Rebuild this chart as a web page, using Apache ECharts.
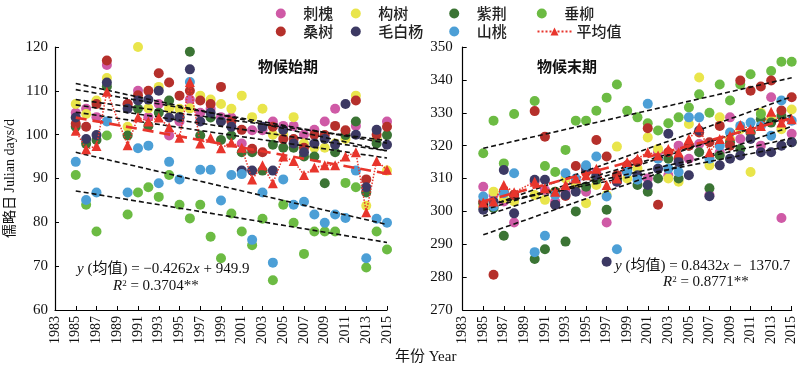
<!DOCTYPE html>
<html><head><meta charset="utf-8">
<script src="https://cdn.jsdelivr.net/npm/echarts@6/dist/echarts.min.js"></script>
<style>html,body{margin:0;padding:0;background:#fff}#c{width:800px;height:367px}</style>
</head><body><div id="c"></div>
<script>
// Years with observations (1989 missing)
const years = [1985,1986,1987,1988,1990,1991,1992,1993,1994,1995,1996,1997,1998,1999,2000,2001,2002,2003,2004,2005,2006,2007,2008,2009,2010,2011,2012,2013,2014,2015];
const xTicks = {min:1983, max:2015, interval:2};

// 物候始期 (start)
const startCihuai    = [105,105.9,104,115.9,107,110,104,107,99.8,103,108,105,105.9,104,103.9,98,101,101,103,102,102,100,101.1,103,105.9,100,102,87,99,103];
const startGoushu    = [107,104.7,107.8,112.9,101.8,120,106,110.9,106,105.9,106,108.9,108,107,105.9,108.9,104,105.9,100,100,104,98,97,97,98,99,108.9,83.8,99,91.8];
const startZijing    = [101.8,97.9,98.8,111,99.8,105.9,102,105,107.8,103.9,118.9,99.8,103.9,98.8,99.8,96,96,91.8,97.7,97,97,95,95,88.9,96,99.9,103,86.8,98,99.9];
const startChuiliu   = [90.8,84,77.9,99.8,81.8,86.8,88,85.8,90.8,84,80.9,84,76.7,71.8,82,77.9,74.8,80.8,66.8,84,79.9,72.8,77.9,77.9,77.9,89,88,69.7,77.9,73.8];
const startSangshu   = [102.5,101.8,107,116.9,107,109,110,114,111.9,108.9,110,107.8,107,110.9,103,101.1,96.8,96,101.8,99,99,97,100,99.9,102,101,107.8,89.8,100,101.8];
const startMaobaiyang= [103.9,99,99.9,111.9,105.9,107.8,108,110,103.9,104,114.9,103,105,103,101.8,91.8,91.8,101.8,91.8,101.1,98,96,98,99,97.7,107,100,88,101.1,97.7];
const startShantao   = [93.8,85.1,86.8,103,86.8,96.9,97.5,88.9,93.8,89.8,112,92,92,85,90.8,91,76,86.8,70.8,89.8,84,84.7,81.8,79.9,81.8,81,91.8,71.8,80.8,79.9];
const startMean      = [100.9,96.7,97.4,109.8,97.6,104,103,103.9,101.7,99.3,112,98,99.3,96.9,98.2,97,89.8,93,88.9,95,94,90.8,92.5,93,93,95,96,82.3,94,92];

// 物候末期 (end)
const endCihuai    = [307.5,305,303,296.6,309,306.5,303,306,309,306,312,296.6,309,313,315,310,318,311,320,316,320.5,305,318,328.6,322,324,320,334.7,298,323.6];
const endGoushu    = [301.5,306,304,303,305,303.5,306,310,308,302.5,308,305,319.7,310,313,322.5,319,310,309,326.6,340.7,314,328.6,322,325,312,330,328,325,331];
const endZijing    = [302.5,301,292.6,305,285.5,288.5,306,290.8,300,307.5,309.6,300.5,310,312.6,308,306,310,316,310,320,318,307,317,321,319,324,328,327,329,321];
const endChuiliu   = [317.7,327.6,314.6,329.6,333.6,313.8,312,318.7,327.6,327.6,330.6,334.6,338.6,330.6,328.6,326.8,324.6,326.8,328.6,331.6,335.6,330,338.6,333.7,338.6,341.7,329.6,342.7,345.5,345.5];
const endSangshu   = [303,280.7,306,305,330.5,322.7,302,304.7,313.8,312,321.7,316.7,311,314,315,325.3,302,318,316,320,324,321,326,320,339.8,336.7,338,339.8,330.7,334.7];
const endMaobaiyang= [300.5,303,312.6,299.4,309.6,309.6,302,305,306,313,311,284.7,309,312,311,308,313,323.6,315,311,324.6,304.6,314,316,317,322,318,318,320,321];
const endShantao   = [304.5,301.5,305.5,311.6,287.6,292.6,305,311.6,310,314,316.7,304.5,288.5,312,309.6,332.7,316,313,312,328.6,328.6,316,320,324,326,327,326,323,333.7,327.6];
const endMean      = [302.7,303,308,305.8,309,307,306,308,310,311,313,308,310,315,316,318,317,319,318,322,325.6,318,322,323,326.3,325,326,330.3,327,328];

// regression of the mean (printed equations)
const meanFitStart = {slope:-0.4262, intercept:949.9};
const meanFitEnd   = {slope:0.8432,  intercept:-1370.7};

const speciesNames = ['刺槐','构树','紫荆','垂柳','桑树','毛白杨','山桃'];
const speciesColors = ['#cf5aa6','#e9e54b','#3b7434','#6cbb43','#b5302b','#3c3963','#4c9fd6'];
const meanName = '平均值';
const meanColor = '#e8352c';

const startSets = [startCihuai,startGoushu,startZijing,startChuiliu,startSangshu,startMaobaiyang,startShantao];
const endSets = [endCihuai,endGoushu,endZijing,endChuiliu,endSangshu,endMaobaiyang,endShantao];

const serif = '"Liberation Serif","Times New Roman","Noto Sans CJK SC",serif';

function pairs(vals){ return years.map((y,i)=>[y, vals[i]]).filter(p=>p[1]!=null); }
function fit(vals){
  const p = pairs(vals); const n=p.length;
  const mx = p.reduce((s,q)=>s+q[0],0)/n, my = p.reduce((s,q)=>s+q[1],0)/n;
  let sxy=0,sxx=0; p.forEach(q=>{sxy+=(q[0]-mx)*(q[1]-my); sxx+=(q[0]-mx)*(q[0]-mx);});
  const b=sxy/sxx, a=my-b*mx;
  return [[years[0],a+b*years[0]],[years[years.length-1],a+b*years[years.length-1]]];
}
function eqLine(f){ return [years[0],years[years.length-1]].map(x=>[x,f.intercept+f.slope*x]); }

const series=[];
[startSets,endSets].forEach((sets,k)=>{
  sets.forEach((vals,i)=>{
    series.push({type:'scatter',name:speciesNames[i],xAxisIndex:k,yAxisIndex:k,data:pairs(vals),symbolSize:10,itemStyle:{color:speciesColors[i],opacity:1},z:2});
  });
  sets.forEach((vals,i)=>{
    series.push({type:'line',xAxisIndex:k,yAxisIndex:k,data:fit(vals),symbol:'none',lineStyle:{color:'#111',width:1.6,type:[5,3]},z:4,silent:true});
  });
  series.push({type:'line',xAxisIndex:k,yAxisIndex:k,data:eqLine(k===0?meanFitStart:meanFitEnd),symbol:'none',lineStyle:{color:meanColor,width:2.6,type:[11,6]},z:5,silent:true});
  series.push({type:'line',name:meanName,xAxisIndex:k,yAxisIndex:k,data:pairs(k===0?startMean:endMean),symbol:'triangle',symbolSize:10,itemStyle:{color:meanColor},lineStyle:{color:meanColor,width:1.5,type:'dotted'},z:6});
});

function xAxis(gi){ return {type:'value',gridIndex:gi,min:xTicks.min,max:xTicks.max,interval:xTicks.interval,
  axisLine:{lineStyle:{color:'#000',width:1.2}},axisTick:{inside:true,length:4,lineStyle:{color:'#000'}},splitLine:{show:false},
  axisLabel:{rotate:90,color:'#111',fontSize:14,fontFamily:serif,margin:6,formatter:v=>String(v)}}; }
function yAxis(gi,min,max,extra){ return Object.assign({type:'value',gridIndex:gi,min:min,max:max,interval:10,
  axisLine:{show:true,lineStyle:{color:'#000',width:1.2}},axisTick:{show:true,inside:true,length:4,lineStyle:{color:'#000'}},splitLine:{show:false},
  axisLabel:{color:'#111',fontSize:15,fontFamily:serif,margin:7}},extra||{}); }

const legends=[];
const legRows=[[0,1,2,3],[4,5,6,-1]];
const legX=[288.3,363.3,461.7,549.3];
legRows.forEach((row,r)=>{
  row.forEach((si,c)=>{
    if(si>=0){
      legends.push({data:[speciesNames[si]],left:legX[c]-17.5,top:r===0?1:19,itemWidth:35,itemHeight:10,icon:'circle',selectedMode:false,
        textStyle:{fontSize:15,color:'#222',fontFamily:'"Noto Sans CJK SC",sans-serif',fontWeight:500}});
    } else {
      legends.push({data:[meanName],left:531.5,top:19,itemWidth:34,itemHeight:10,selectedMode:false,
        textStyle:{fontSize:15,color:'#222',fontFamily:'"Noto Sans CJK SC",sans-serif',fontWeight:500}});
    }
  });
});

const eqRich={i:{fontStyle:'italic',fontSize:15,fontFamily:serif,fill:'#111'},sup:{fontSize:9,fontFamily:serif,fill:'#111',verticalAlign:'top',lineHeight:9}};
const chart=echarts.init(document.getElementById('c'),null,{renderer:'canvas'});
chart.setOption({
  animation:false,
  grid:[{left:55,top:47,width:332,height:263},{left:462.7,top:47,width:329,height:263}],
  xAxis:[xAxis(0),xAxis(1)],
  yAxis:[yAxis(0,60,120,{name:'儒略日 Julian days/d',nameLocation:'middle',nameRotate:90,nameGap:38,
      nameTextStyle:{fontSize:14,color:'#111',fontFamily:'"Liberation Serif","Noto Sans CJK SC",serif'}}),
    yAxis(1,270,350,{axisLabel:{color:'#111',fontSize:15,fontFamily:serif,margin:10}})],
  legend:legends,
  series:series,
  graphic:[
    {type:'text',left:258,top:59,style:{text:'物候始期',font:'bold 15px "Noto Sans CJK SC"',fill:'#111'}},
    {type:'text',left:537,top:59,style:{text:'物候末期',font:'bold 15px "Noto Sans CJK SC"',fill:'#111'}},
    {type:'text',left:77,top:262,style:{text:'{i|y} (均值) = −0.4262{i|x} + 949.9',fontSize:15,fontFamily:serif,fill:'#111',rich:eqRich}},
    {type:'text',left:113,top:279,style:{text:'{i|R}{sup|2} = 0.3704**',fontSize:15,fontFamily:serif,fill:'#111',rich:eqRich}},
    {type:'text',left:615,top:259,style:{text:'{i|y} (均值) = 0.8432{i|x} −  1370.7',fontSize:15,fontFamily:serif,fill:'#111',rich:eqRich}},
    {type:'text',left:663,top:275,style:{text:'{i|R}{sup|2} = 0.8771**',fontSize:15,fontFamily:serif,fill:'#111',rich:eqRich}},
    {type:'text',left:395,top:350,style:{text:'年份 Year',fontSize:15,fontFamily:'"Liberation Serif","Noto Sans CJK SC",serif',fill:'#111'}}
  ]
});
</script></body></html>
